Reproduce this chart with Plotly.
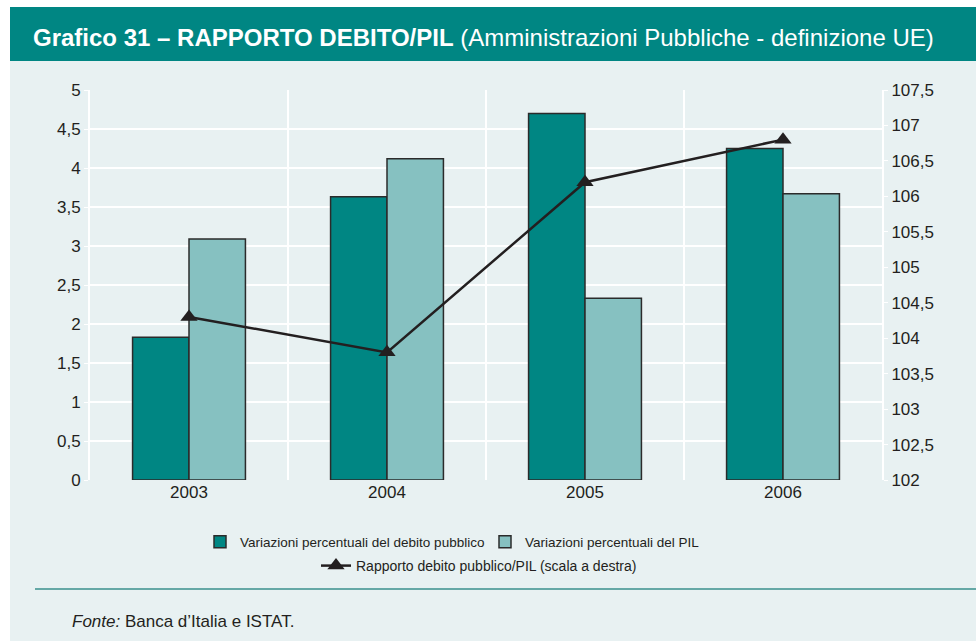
import plotly.graph_objects as go

# dati
anni = ["2003", "2004", "2005", "2006"]
var_debito = [1.83, 3.63, 4.70, 4.25]
var_pil = [3.09, 4.12, 2.33, 3.67]
rapporto = [104.3, 103.8, 106.2, 106.8]

W, H = 976, 641
L, R, T, B = 90, 882, 90, 480  # area del grafico in pixel


def px(x):
    return (x - L) / (R - L)


def py(y):
    return (B - y) / (B - T)


TEAL = "#008683"
LIGHT = "#86c1c1"
BG = "#e8f1f2"
INK = "#231f20"
FONT = "Liberation Sans, Arial, sans-serif"

fig = go.Figure()

fig.add_trace(go.Bar(x=anni, y=var_debito, name="Variazioni percentuali del debito pubblico",
                     marker=dict(color=TEAL, line=dict(color="#2b2b2b", width=1.5)),
                     legend="legend"))
fig.add_trace(go.Bar(x=anni, y=var_pil, name="Variazioni percentuali del PIL",
                     marker=dict(color=LIGHT, line=dict(color="#2b2b2b", width=1.5)),
                     legend="legend"))
fig.add_trace(go.Scatter(x=anni, y=rapporto, yaxis="y2", mode="lines+markers",
                         name="Rapporto debito pubblico/PIL (scala a destra)",
                         line=dict(color=INK, width=2.5),
                         marker=dict(symbol="triangle-up", size=15, color=INK),
                         legend="legend2"))

fig.update_layout(
    width=W, height=H,
    margin=dict(l=L, r=W - R, t=T, b=H - B),
    paper_bgcolor="white",
    plot_bgcolor=BG,
    separators=",.",
    barmode="group",
    bargap=0.43,
    bargroupgap=0,
    font=dict(family=FONT, size=17, color=INK),
    xaxis=dict(type="category", tickson="boundaries", showgrid=True, gridcolor="white", gridwidth=2,
               ticks="", showline=False, zeroline=False, tickfont=dict(size=17)),
    yaxis=dict(range=[0, 5], dtick=0.5, showgrid=True, gridcolor="white", gridwidth=2,
               showline=True, linecolor="white", linewidth=2, ticks="outside", tickcolor="white",
               ticklen=4, zeroline=False, tickfont=dict(size=17)),
    yaxis2=dict(range=[102, 107.5], dtick=0.5, overlaying="y", side="right", showgrid=False,
                showline=True, linecolor="white", linewidth=2, ticks="outside", tickcolor="white",
                ticklen=4, zeroline=False, tickfont=dict(size=17)),
    legend=dict(orientation="h", x=px(200), xanchor="left", y=py(542), yanchor="middle",
                bgcolor="rgba(0,0,0,0)", font=dict(size=13.5, color=INK), traceorder="normal",
                entrywidth=240, entrywidthmode="pixels"),
    legend2=dict(orientation="h", x=px(316), xanchor="left", y=py(566), yanchor="middle",
                 bgcolor="rgba(0,0,0,0)", font=dict(size=14, color=INK)),
    shapes=[
        dict(type="rect", xref="paper", yref="paper", x0=px(10), x1=px(W), y0=py(H), y1=py(61),
             fillcolor=BG, line=dict(width=0), layer="below"),
        dict(type="rect", xref="paper", yref="paper", x0=px(10), x1=px(W), y0=py(61), y1=py(7),
             fillcolor=TEAL, line=dict(width=0), layer="below"),
        dict(type="line", xref="paper", yref="paper", x0=px(35), x1=px(W), y0=py(589), y1=py(589),
             line=dict(color="#3a8f8c", width=1.5)),
    ],
    annotations=[
        dict(xref="paper", yref="paper", x=px(31), y=py(37), xanchor="left", yanchor="middle",
             showarrow=False, font=dict(family=FONT, size=24, color="white"),
             text="<b>Grafico 31 – RAPPORTO DEBITO/PIL</b> (Amministrazioni Pubbliche - definizione UE)"),
        dict(xref="paper", yref="paper", x=px(70), y=py(621), xanchor="left", yanchor="middle",
             showarrow=False, font=dict(family=FONT, size=17, color=INK),
             text="<i>Fonte:</i> Banca d’Italia e ISTAT."),
    ],
)

# niente margini della pagina, la figura parte da (0, 0)
fig.write_html("out.html", config={"displayModeBar": False},
               post_script="document.body.style.margin='0';document.body.style.overflow='hidden';")
